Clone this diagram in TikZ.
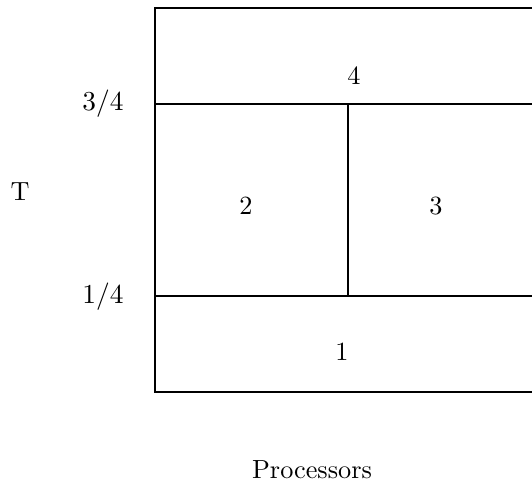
\documentclass[tikz,border=0pt]{standalone}
\begin{document}
\begin{tikzpicture}[x=0.4pt,y=-0.4pt,
  box/.style={line width=0.8pt},
  lab/.style={inner sep=0pt,font=\fontsize{10.5}{12}\selectfont}]
\useasboundingbox (0,0) rectangle (532,483);
\coordinate (tl) at (155,8);
\coordinate (tr) at (532,8);
\coordinate (bl) at (155,392);
\coordinate (br) at (532,392);
\coordinate (ul) at (155,104);
\coordinate (ur) at (532,104);
\coordinate (ll) at (155,296);
\coordinate (lr) at (532,296);
\coordinate (mt) at (348,104);
\coordinate (mb) at (348,296);
\draw[box] (tr) -- (tl) -- (bl) -- (br);
\draw[box] (ul) -- (ur);
\draw[box] (ll) -- (lr);
\draw[box] (mt) -- (mb);
\node[lab] (n4) at (354,76) {4};
\node[lab] (n2) at (246,206) {2};
\node[lab] (n3) at (436,206) {3};
\node[lab] (n1) at (342,352) {1};
\node[lab] (q3) at (103,104) {$3/4$};
\node[lab] (q1) at (103,297) {$1/4$};
\node[lab] (T) at (20,192) {T};
\node[lab] (P) at (312,470) {Processors};
\end{tikzpicture}
\end{document}
